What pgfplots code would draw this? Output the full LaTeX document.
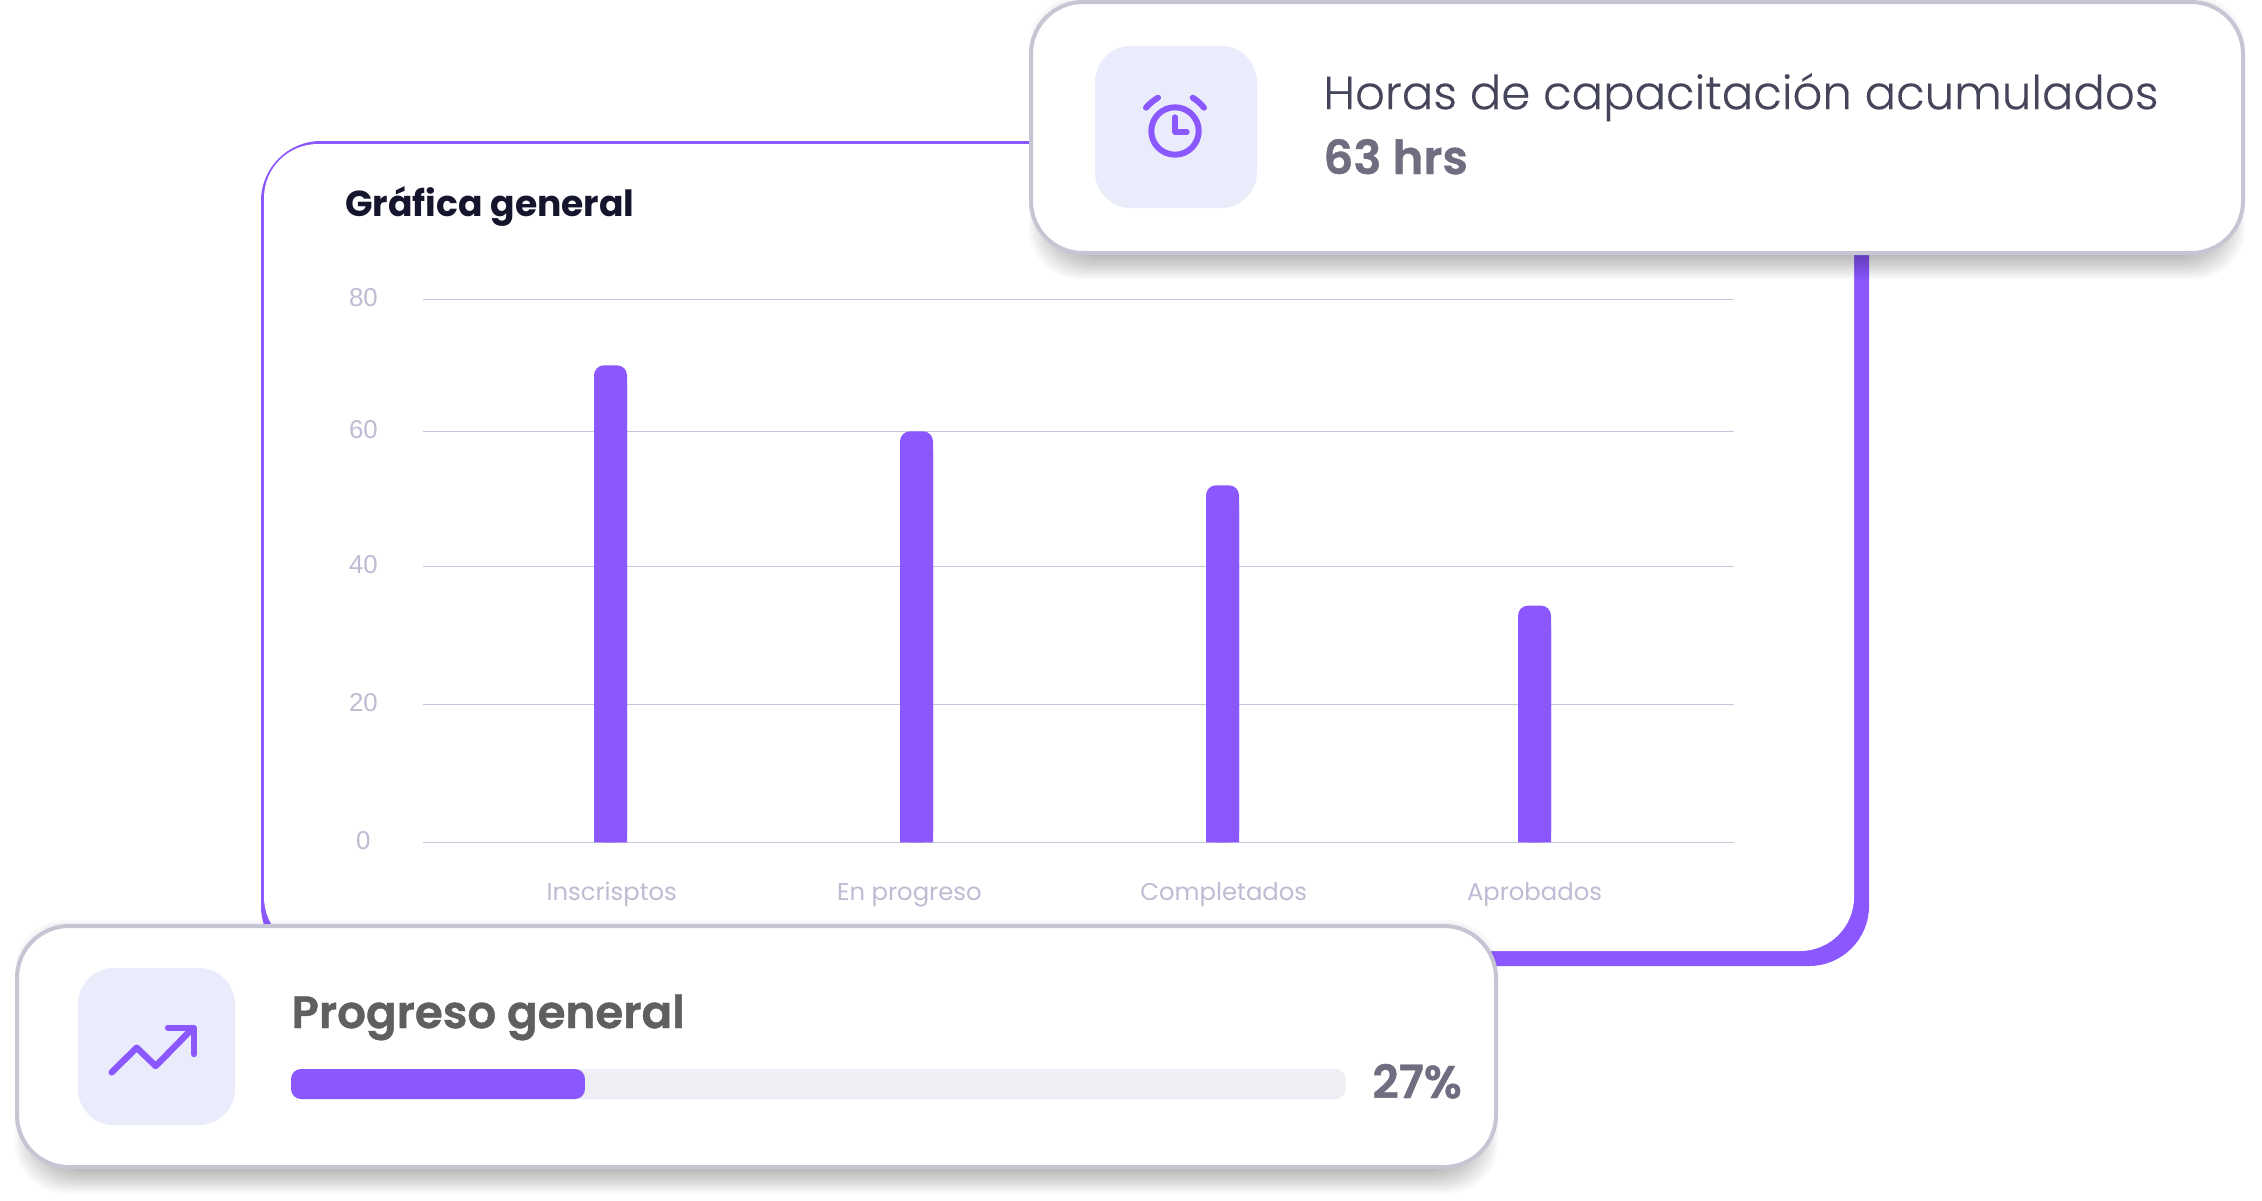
\documentclass[border=0pt]{standalone}
\usepackage{fontspec}
\usepackage{pgfplots}
\usepackage{pgfplotstable}
\pgfplotsset{compat=1.18}
\setmainfont{Poppins}
\newfontfamily\plight{Poppins Light}[FakeBold=0.15]
\newfontfamily\psemi{Poppins SemiBold}[FakeBold=0.9]
\newfontfamily\pbold{Poppins}[UprightFont=*-Bold]
\newfontfamily\tickfont{Liberation Sans}
\definecolor{pur}{HTML}{8B57FF}
\definecolor{bord}{HTML}{C6C5D4}
\definecolor{gridc}{HTML}{C8C6DA}
\definecolor{tickc}{HTML}{BDBCD3}
\definecolor{tile}{HTML}{EAECFC}
\definecolor{track}{HTML}{EEEEF5}
\definecolor{ttl}{HTML}{15152D}
\definecolor{hor}{HTML}{44445A}
\definecolor{sub}{HTML}{6E6E80}
\definecolor{prog}{HTML}{5F5F5F}
\pgfplotstableread{
x v
610.5 70
916.5 60
1222.5 52
1534.5 34.3
}\barsdata
\newcommand\card[4]{%
  \foreach \k in {-14,-12,...,14}{
    \fill[black,opacity=.023,rounded corners=25pt] ({#1+14-\k},{#2+10-\k}) rectangle ({#3-14+\k},{#4+10+\k});
  }
  \draw[bord,line width=2pt,fill=white,rounded corners=26pt] ({#1+2},{#2+2}) rectangle ({#3-2},{#4-2});
}
\begin{document}
\begin{tikzpicture}
\path[use as bounding box,fill=white] (0,0) rectangle (1131pt,-600pt);
\begin{scope}[x=0.5pt,y=-0.5pt]
  \fill[pur,rounded corners=30pt] (261,141) rectangle (1869,966);
  \fill[white,rounded corners=27pt] (264,144) rectangle (1854,951);
  \node[anchor=base west,inner sep=0,text=ttl,font=\pbold\fontsize{18.05pt}{20pt}\selectfont] at (345,216) {Gráfica general};
\end{scope}
\begin{axis}[
  at={(211.5pt,-421.15pt)}, anchor=south west,
  scale only axis, width=655.5pt, height=271.5pt,
  xmin=423, xmax=1734, ymin=0, ymax=80,
  y coord trafo/.code={\pgfmathparse{#1<=40 ? #1*6.9 : (#1<=60 ? 276+(#1-40)*6.75 : 411+(#1-60)*6.6)}},
  ytick={0,20,40,60,80}, yticklabels={0,20,40,60,80},
  xtick={611.8,909.4,1223.7,1534.5},
  xticklabels={Inscrisptos,En progreso,Completados,Aprobados},
  ymajorgrids, grid style={gridc,line width=0.6pt},
  axis line style={draw=none}, major tick length=0pt,
  tick style={draw=none},
  xticklabel style={anchor=base,yshift=-29pt,text=tickc,font=\fontsize{12.15pt}{14pt}\selectfont,inner sep=0pt},
  yticklabel style={anchor=center,xshift=-29.8pt,yshift=1pt,text=tickc,font=\tickfont\fontsize{12.9pt}{14pt}\selectfont,inner sep=0pt},
]
\addplot[ybar,bar width=16.5pt,bar shift=0pt,fill=pur,draw=none,rounded corners=5pt] table[x=x,y=v] {\barsdata};
\addplot[ybar,bar width=16.5pt,bar shift=0pt,fill=pur,draw=none] table[x=x,y expr=\thisrow{v}-3] {\barsdata};
\end{axis}
\begin{scope}[x=0.5pt,y=-0.5pt]
  \card{1029}{0}{2245}{255}
  \fill[tile,rounded corners=18pt] (1095,46) rectangle (1257,208);
  \draw[pur,line width=3pt] (1175,131) circle (11.85pt);
  \draw[pur,line width=3pt,line cap=round,line join=round] (1175,117.3) -- (1175,131.7) -- (1186.7,131.7);
  \draw[pur,line width=3pt,line cap=round] (1146,107.7) to[bend left=8] (1158,97.7);
  \draw[pur,line width=3pt,line cap=round] (1192.7,97.7) to[bend left=8] (1204,107.7);
  \node[anchor=base west,inner sep=0,text=hor,font=\plight\fontsize{23.3pt}{26pt}\selectfont] at (1323,109.2) {Horas de capacitación acumulados};
  \node[anchor=base west,inner sep=0,text=sub,font=\psemi\fontsize{23.4pt}{26pt}\selectfont] at (1323,174) {63 hrs};
  \card{15}{924}{1498}{1169}
  \fill[tile,rounded corners=18pt] (78,968) rectangle (235,1125);
  \draw[pur,line width=3.2pt,line cap=round,line join=round] (111.7,1072.3) -- (136.7,1047.7) -- (155.7,1066) -- (193,1028);
  \draw[pur,line width=3.2pt,line cap=round,line join=round] (168,1027.7) -- (194,1027.7) -- (194,1054);
  \node[anchor=base west,inner sep=0,text=prog,font=\psemi\fontsize{22.6pt}{26pt}\selectfont] at (291,1028) {Progreso general};
  \fill[track,rounded corners=5pt] (291,1069) rectangle (1345.5,1099);
  \node[anchor=base west,inner sep=0,text=sub,font=\psemi\fontsize{22.9pt}{26pt}\selectfont] at (1372,1098) {27\%};
\end{scope}
\begin{axis}[
  at={(145.5pt,-549.5pt)}, anchor=south west,
  scale only axis, width=527pt, height=15pt,
  xmin=0, xmax=96.8, ymin=-0.5, ymax=0.5,
  hide axis, clip=false,
]
\addplot[xbar,bar width=15pt,bar shift=0pt,fill=pur,draw=none,rounded corners=5pt] coordinates {(27,0)};
\end{axis}
\end{tikzpicture}
\end{document}
